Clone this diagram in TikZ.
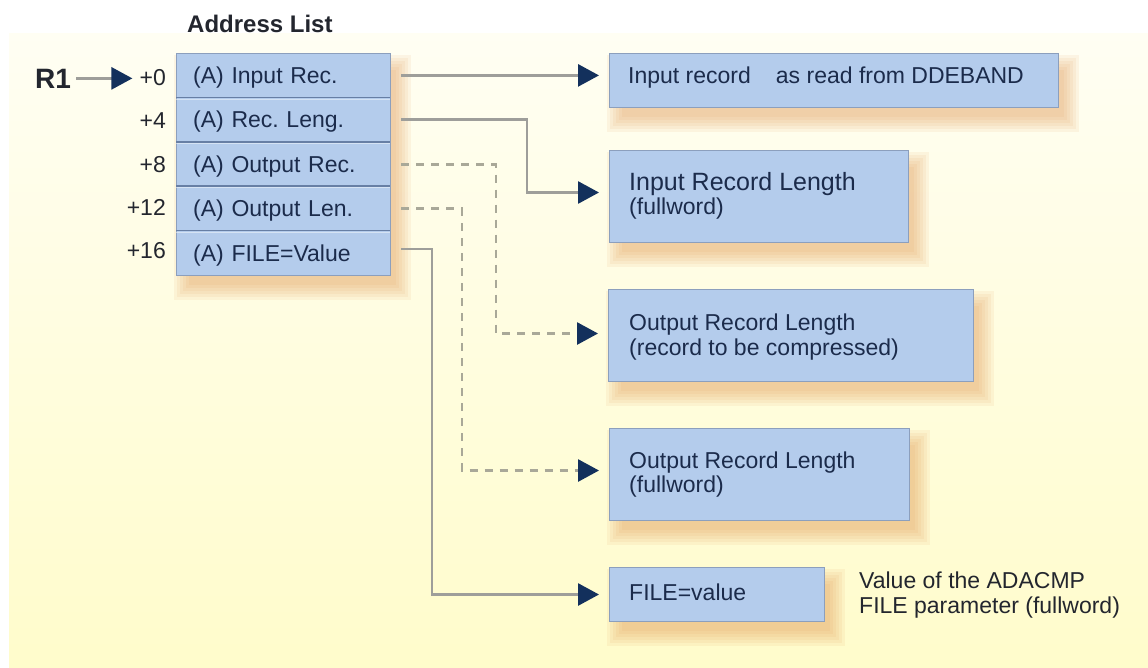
\documentclass[tikz,border=0pt]{standalone}
\usepackage{fontspec}
\setmainfont{Liberation Sans}
\usetikzlibrary{arrows.meta,calc}
\definecolor{boxblue}{HTML}{B4CCEC}
\definecolor{boxedge}{HTML}{8C9FBD}
\definecolor{divline}{HTML}{677FA5}
\definecolor{navy}{HTML}{13305C}
\definecolor{txtc}{HTML}{1B2B4B}
\definecolor{darktxt}{HTML}{23262E}
\definecolor{connc}{HTML}{9E9E9A}
\definecolor{dashc}{HTML}{A9A898}
\definecolor{shc}{HTML}{E0964F}
\definecolor{bgtop}{HTML}{FFFEF3}
\definecolor{bgbot}{HTML}{FFFCCB}
\frenchspacing
\pgfdeclarelayer{backlayer}
\pgfdeclarelayer{shadowlayer}
\pgfsetlayers{backlayer,shadowlayer,main}
\tikzset{
  rbox/.style={rectangle, fill=boxblue, draw=boxedge, line width=1pt, inner sep=0pt,
    anchor=north west},
  listbox/.style={rectangle, fill=boxblue, draw=boxedge, line width=1pt, inner sep=0pt,
    anchor=north west, minimum width=214pt, minimum height=222pt},
  rowbox/.style={rectangle, anchor=north west, inner xsep=17pt, inner ysep=0pt,
    text width=180pt, align=left, minimum height=44.4pt, text height=16pt, text depth=0pt,
    text=txtc, font=\fontsize{23}{27}\selectfont},
  divider/.style={draw=divline, line width=1.6pt},
  divlight/.style={draw=white, draw opacity=.45, line width=1pt},
  btxt/.style={anchor=base west, inner sep=0pt, text=txtc, font=\fontsize{23}{27}\selectfont},
  bigtxt/.style={anchor=base west, inner sep=0pt, text=txtc, font=\fontsize{25}{29}\selectfont},
  sidetxt/.style={anchor=base west, inner sep=0pt, text=darktxt, font=\fontsize{23}{27}\selectfont},
  offs/.style={anchor=base east, inner sep=0pt, text=darktxt, font=\fontsize{23}{27}\selectfont},
  solidconn/.style={draw=connc, line width=2.8pt},
  dashconn/.style={draw=dashc, line width=2.8pt, dash pattern=on 8pt off 7pt},
  tipstyle/.style={-{Triangle[length=21pt,width=22pt,color=navy]}},
  shadowpiece/.style={fill=shc, fill opacity=.09},
}
\begin{document}
\begin{tikzpicture}[x=1pt,y=-1pt]
\useasboundingbox (0,0) rectangle (1148,667);
\begin{pgfonlayer}{backlayer}
\fill[white] (0,0) rectangle (1148,667);
\shade[top color=bgtop, bottom color=bgbot] (9,33) rectangle (1148,667);
\end{pgfonlayer}

% title
\node[anchor=base west, inner sep=0pt, text=darktxt, font=\fontsize{24}{28}\selectfont\bfseries] (title) at (187,32) {Address List};

% address list
\node[listbox] (lst) at (176,53) {};
\node[rowbox] (r0) at (176,53) {(A) Input Rec.};
\node[rowbox] (r1) at (176,97.4) {(A) Rec. Leng.};
\node[rowbox] (r2) at (176,141.8) {(A) Output Rec.};
\node[rowbox] (r3) at (176,186.2) {(A) Output Len.};
\node[rowbox] (r4) at (176,230.6) {(A) FILE=Value};
\foreach \r in {r1,r2,r3,r4}{
  \draw[divider] (\r.north west) -- (\r.north east);
  \draw[divlight] ([yshift=-1.6pt]\r.north west) -- ([yshift=-1.6pt]\r.north east);
}

% offsets
\node[offs] (o0) at (166,85) {+0};
\node[offs] (o1) at (166,128) {+4};
\node[offs] (o2) at (166,172) {+8};
\node[offs] (o3) at (166,215) {+12};
\node[offs] (o4) at (166,258) {+16};

% R1
\node[anchor=base west, inner sep=0pt, text=darktxt, font=\fontsize{28}{32}\selectfont\bfseries] (R1) at (35,88) {R1};
\draw[solidconn, tipstyle, shorten <=5pt, shorten >=7pt] (R1.east) -- (R1.east -| o0.west);

% target boxes
\node[rbox, minimum width=449pt, minimum height=54pt] (b1) at (609,53) {};
\node[rbox, minimum width=299pt, minimum height=92pt] (b2) at (609,150) {};
\node[rbox, minimum width=365pt, minimum height=92pt] (b3) at (608,289) {};
\node[rbox, minimum width=300pt, minimum height=92pt] (b4) at (609,428) {};
\node[rbox, minimum width=215pt, minimum height=54pt] (b5) at (609,567) {};

% soft shadows behind the boxes
\begin{pgfonlayer}{shadowlayer}
\foreach \b in {lst,b1,b2,b3,b4,b5}{
  \foreach \s in {-4,-1,2,5,8,11}{
    \fill[shadowpiece] ($(\b.north west)+(9-\s,13-\s)$) rectangle ($(\b.south east)+(9+\s,13+\s)$);
  }
}
\end{pgfonlayer}

\node[btxt] (t1) at (628,83) {Input record\hspace{25pt}as read from DDEBAND};
\node[bigtxt] (t2a) at (629,190) {Input Record Length};
\node[btxt] (t2b) at (629,214) {(fullword)};
\node[btxt] (t3a) at (629,330) {Output Record Length};
\node[btxt] (t3b) at (629,355) {(record to be compressed)};
\node[btxt] (t4a) at (629,468) {Output Record Length};
\node[btxt] (t4b) at (629,492) {(fullword)};
\node[btxt] (t5) at (629,600) {FILE=value};
\node[sidetxt] (s1) at (859,588) {Value of the ADACMP};
\node[sidetxt] (s2) at (859,613) {FILE parameter (fullword)};

% bend coordinates
\coordinate (k2) at (527,0);
\coordinate (k3) at (496,0);
\coordinate (k4) at (462,0);
\coordinate (k5) at (432,0);

% connectors
\draw[solidconn, tipstyle, shorten <=11pt, shorten >=10pt] (r0.east) -- (r0.east -| b1.west);
\draw[solidconn, tipstyle, shorten <=11pt, shorten >=10pt] (r1.east) -- (r1.east -| k2) |- ([yshift=4pt]b2.west);
\draw[dashconn, tipstyle, shorten <=11pt, shorten >=10pt] (r2.east) -- (r2.east -| k3) |- ([yshift=2pt]b3.west);
\draw[dashconn, tipstyle, shorten <=11pt, shorten >=10pt] (r3.east) -- (r3.east -| k4) |- ([yshift=4pt]b4.west);
\draw[solidconn, tipstyle, shorten <=11pt, shorten >=10pt] ([yshift=4pt]r4.east) -- ([yshift=4pt]r4.east -| k5) |- (b5.west);
\end{tikzpicture}
\end{document}
